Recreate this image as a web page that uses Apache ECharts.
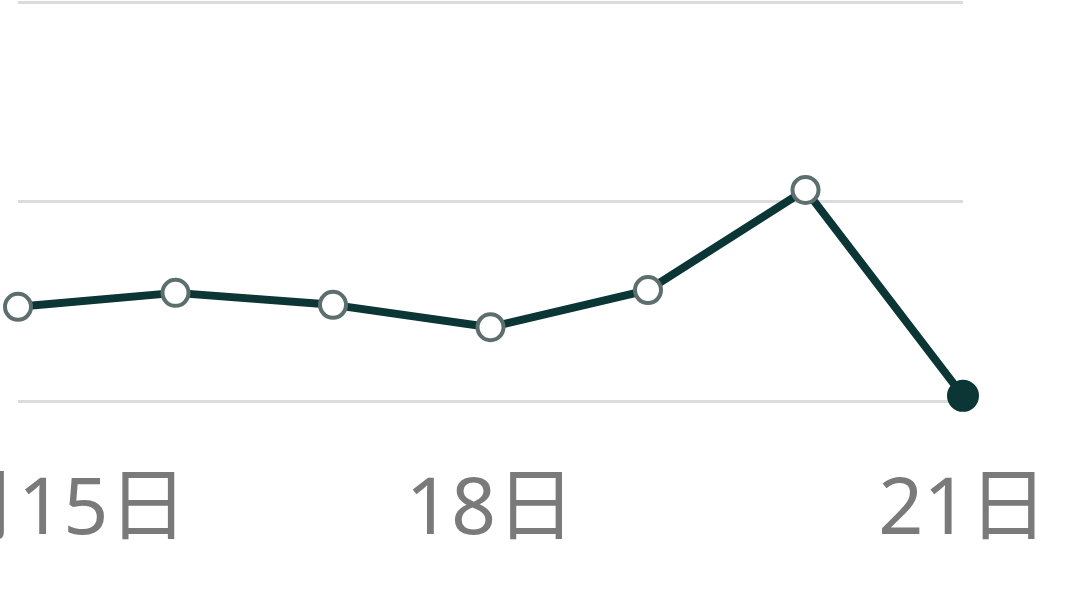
<!DOCTYPE html>
<html lang="zh">
<head>
    <meta charset="UTF-8">
    <title>折线图</title>
    <script src="https://cdn.jsdelivr.net/npm/echarts@6/dist/echarts.min.js"></script>
    <style>
        html,body{
            margin: 0;
            height: 100%;
            background: #fff;
        }
    </style>
</head>
<body>
<div id="main" style="width: 1080px;height: 600px"></div>
<script>
    // 日期和数值
    var days = ['12月15日', '16日', '17日', '18日', '19日', '20日', '21日'];
    var values = [23.6, 27.1, 24.1, 18.5, 27.8, 52.9, 1.3];

    var myChart = echarts.init(document.getElementById('main'));

    // 最后一个点用实心圆
    var seriesData = values.map(function (v, i) {
        if (i === values.length - 1) {
            return {
                value: v,
                symbolSize: 30,
                itemStyle: {color: '#0b3635', borderColor: '#0b3635', borderWidth: 2}
            };
        }
        return v;
    });

    var option = {
        animation: false,
        grid: {
            left: 18,
            right: 117,
            top: 2,
            bottom: 199,
            containLabel: false,
            outerBoundsMode: 'none'
        },
        xAxis: {
            type: 'category',
            boundaryGap: false,
            data: days,
            axisLine: {show: false},
            axisTick: {show: false},
            axisLabel: {
                interval: 2,
                margin: 71,
                color: '#7a7a7a',
                fontSize: 79,
                fontFamily: 'Noto Sans, Noto Sans CJK SC'
            }
        },
        yAxis: {
            type: 'value',
            min: 0,
            max: 100,
            interval: 50,
            axisLabel: {show: false},
            axisLine: {show: false},
            axisTick: {show: false},
            splitLine: {
                lineStyle: {color: '#dcdcdc', width: 3}
            }
        },
        series: [
            {
                type: 'line',
                data: seriesData,
                symbol: 'circle',
                symbolSize: 26,
                lineStyle: {color: '#0b3635', width: 8},
                itemStyle: {color: '#ffffff', borderColor: '#5c6f6e', borderWidth: 4}
            }
        ]
    };
    myChart.setOption(option);
</script>
</body>
</html>
